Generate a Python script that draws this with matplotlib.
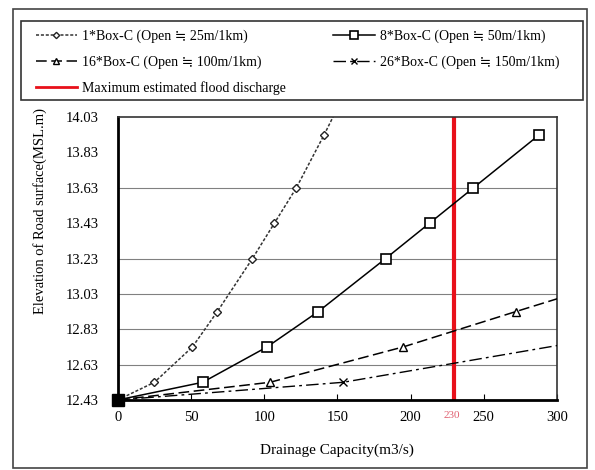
import matplotlib.pyplot as plt
from matplotlib.patches import Rectangle
from matplotlib.lines import Line2D

plt.rcParams['font.family'] = ['Liberation Serif', 'DejaVu Serif', 'Noto Sans CJK JP']

# (points past the axis edge only carry the line on)
box1_x = [0, 25, 51, 68, 92, 107, 122, 141, 153]
box1_y = [12.43, 12.53, 12.73, 12.93, 13.23, 13.43, 13.63, 13.93, 14.13]
box8_x = [0, 58, 102, 137, 183, 213, 243, 288]
box8_y = [12.43, 12.53, 12.73, 12.93, 13.23, 13.43, 13.63, 13.93]
box16_x = [0, 104, 195, 272, 350]
box16_y = [12.43, 12.53, 12.73, 12.93, 13.13]
box26_x = [0, 154, 365]
box26_y = [12.43, 12.53, 12.83]
flood_q = 230

labels = ['1*Box-C (Open \u2252 25m/1km)', '8*Box-C (Open \u2252 50m/1km)',
          '16*Box-C (Open \u2252 100m/1km)', '26*Box-C (Open \u2252 150m/1km)',
          'Maximum estimated flood discharge']
yticks = [12.43, 12.63, 12.83, 13.03, 13.23, 13.43, 13.63, 13.83, 14.03]
grid_y = [12.63, 12.83, 13.03, 13.23, 13.63]

fig = plt.figure(figsize=(5.95, 4.70), dpi=100)
ax = fig.add_axes([0.198, 0.149, 0.738, 0.602])

for gy in grid_y:
    ax.axhline(gy, color='#808080', lw=0.8, zorder=1)

l1, = ax.plot(box1_x, box1_y, color='#333333', lw=1.1, ls=(0, (2, 1.2)),
              marker='D', ms=4, mfc='white', mec='#222222', zorder=3)
l2, = ax.plot(box8_x, box8_y, color='black', lw=1.1, ls='-',
              marker='s', ms=7, mfc='white', mec='black', mew=1.2, zorder=3)
l3, = ax.plot(box16_x, box16_y, color='black', lw=1.1, ls=(0, (7, 3)),
              marker='^', ms=6, mfc='white', mec='black', zorder=3)
l4, = ax.plot(box26_x, box26_y, color='black', lw=1.0, ls=(0, (9, 3, 2, 3)),
              marker='x', ms=6, mec='black', zorder=3)
ax.plot([0], [12.43], marker='s', ms=8, color='black', zorder=4, clip_on=False)
l5 = ax.axvline(flood_q, color='#e8101a', lw=3, zorder=2)

ax.annotate(str(flood_q), xy=(flood_q, 0), xycoords=('data', 'axes fraction'),
            xytext=(-2, -11), textcoords='offset points', ha='center', va='center',
            fontsize=8, color='#e06070')

ax.set_xlim(0, 300)
ax.set_ylim(12.43, 14.03)
ax.set_xticks([0, 50, 100, 150, 200, 250, 300])
ax.set_yticks(yticks)
ax.set_yticklabels(['%.2f' % v for v in yticks])
ax.tick_params(axis='x', direction='in', length=4, pad=8, labelsize=10.5)
ax.tick_params(axis='y', length=0, pad=14, labelsize=10.5)

for side in ['left', 'bottom']:
    ax.spines[side].set_linewidth(2)
for side in ['top', 'right']:
    ax.spines[side].set_linewidth(1.2)
    ax.spines[side].set_color('#333333')

fig.text(0.567, 1 - 450 / 470, 'Drainage Capacity(m3/s)', ha='center', va='center', fontsize=11)
fig.text(0.067, 0.55, 'Elevation of Road surface(MSL.m)', ha='center', va='center',
         rotation=90, fontsize=10.5)

# outer frame and legend box
fig.patches.append(Rectangle((13 / 595, 1 - 468 / 470), 574 / 595, 459 / 470,
                             transform=fig.transFigure, fill=False, ec='#444444', lw=1.2))
fig.patches.append(Rectangle((21 / 595, 1 - 100 / 470), 562 / 595, 79 / 470,
                             transform=fig.transFigure, fill=False, ec='#333333', lw=1.2))

h5 = Line2D([], [], color='#e8101a', lw=2)
fig.legend([l1, l3, h5, l2, l4], [labels[0], labels[2], labels[4], labels[1], labels[3]],
           ncol=2, loc='upper left', bbox_to_anchor=(0.0387, 0.964), frameon=False,
           fontsize=10, handlelength=3.0, handletextpad=0.35, columnspacing=3.4,
           labelspacing=0.9, markerscale=0.8)

fig.savefig('out.png', dpi=100)
